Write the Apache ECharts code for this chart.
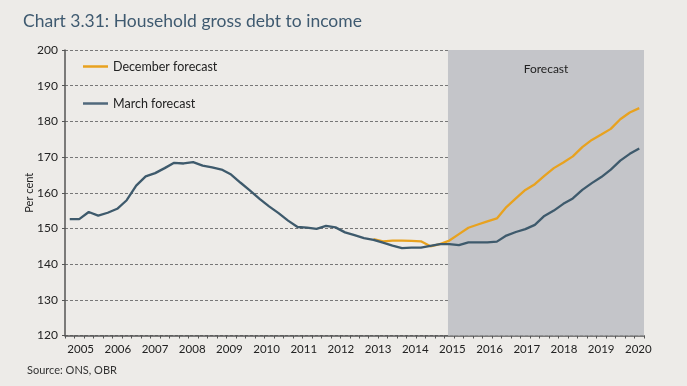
<!DOCTYPE html>
<html>
<head>
<meta charset="utf-8">
<script src="https://cdn.jsdelivr.net/npm/echarts@6/dist/echarts.min.js"></script>
<style>
html,body{margin:0;padding:0;background:#edebe8;}
#c{width:687px;height:386px;}
</style>
</head>
<body>
<div id="c"></div>
<script>
// Quarterly categories 2005 Q1 .. 2020 Q1
var quarters = [];
for (var y = 2005; y <= 2020; y++) {
  for (var q = 1; q <= 4; q++) {
    if (y === 2020 && q > 1) break;
    quarters.push(y + ' Q' + q);
  }
}
var yearLabels = [2005,2006,2007,2008,2009,2010,2011,2012,2013,2014,2015,2016,2017,2018,2019,2020];

var marchForecast = [
  152.6,152.6,154.6,153.6, 154.4,155.5,157.9,162.0, 164.6,165.5,166.9,168.4,
  168.2,168.6,167.6,167.1, 166.5,165.1,162.8,160.6, 158.3,156.2,154.3,152.2,
  150.4,150.2,149.9,150.7, 150.3,148.9,148.1,147.3, 146.8,146.0,145.2,144.5,
  144.6,144.6,145.1,145.6, 145.6,145.3,146.1,146.1, 146.1,146.3,148.0,149.0,
  149.8,151.0,153.5,155.0, 156.9,158.4,160.8,162.7, 164.4,166.5,169.0,170.9,
  172.4
];
var decemberForecast = [
  null,null,null,null, null,null,null,null, null,null,null,null,
  null,null,null,null, null,null,null,null, null,null,null,null,
  null,null,null,null, null,null,null,null, 147.0,146.4,146.6,146.6,
  146.5,146.4,145.0,145.6, 146.6,148.4,150.2,151.1, 152.0,152.8,156.0,158.4,
  160.8,162.4,164.7,166.9, 168.5,170.2,172.8,174.8, 176.3,177.9,180.6,182.5,
  183.7
];
var forecastPeriod = [2014.88, 2020.153];

var chart = echarts.init(document.getElementById('c'));
var font = 'Lato, "Open Sans", sans-serif';
chart.setOption({
  backgroundColor: '#edebe8',
  animation: false,
  textStyle: {fontFamily: font},
  title: [
    {text: 'Chart 3.31: Household gross debt to income', left: 18, top: 7,
     textStyle: {fontSize: 17.5, fontWeight: 'normal', color: '#3f5a70', fontFamily: font}},
    {text: 'Source: ONS, OBR', left: 22, top: 360,
     textStyle: {fontSize: 11, fontWeight: 'normal', color: '#333', fontFamily: font}}
  ],
  legend: {
    orient: 'vertical', left: 78, top: 55, itemWidth: 25, itemHeight: 2.5, itemGap: 24,
    icon: 'rect',
    textStyle: {fontSize: 12.5, color: '#222', fontFamily: font},
    data: ['December forecast', 'March forecast']
  },
  grid: {left: 65, right: 43, top: 50, bottom: 50.5, containLabel: false},
  xAxis: [
    {type: 'category', data: quarters, boundaryGap: true,
     axisLine: {lineStyle: {color: '#555', width: 1.5}},
     axisTick: {show: true, interval: 0, length: 3, lineStyle: {color: '#555'}},
     axisLabel: {show: false},
     splitLine: {show: false}},
    {type: 'value', position: 'bottom', min: 2004.578, max: 2020.153,
     axisLine: {show: false}, axisTick: {show: false}, splitLine: {show: false},
     axisLabel: {show: true, customValues: yearLabels, margin: 8, fontSize: 11.5, color: '#222',
       fontFamily: font, formatter: function (v) { return String(Math.round(v)); }}}
  ],
  yAxis: {
    type: 'value', min: 120, max: 200, interval: 10,
    name: 'Per cent', nameLocation: 'middle', nameGap: 30, nameRotate: 90,
    nameMoveOverlap: false,
    nameTextStyle: {fontSize: 11, color: '#222', fontFamily: font},
    axisLine: {show: true, lineStyle: {color: '#555', width: 1.5}},
    axisTick: {show: true, length: 3, lineStyle: {color: '#555'}},
    axisLabel: {margin: 7, fontSize: 12, color: '#222', fontFamily: font},
    splitLine: {show: true, lineStyle: {color: '#777', type: [3, 2], width: 1}}
  },
  series: [
    {name: 'forecast-area', type: 'line', xAxisIndex: 1, data: [], z: -1, silent: true,
     markArea: {silent: true, itemStyle: {color: '#c4c5c9'},
       label: {show: true, position: 'insideTop', distance: 13, color: '#222', fontSize: 12, fontFamily: font},
       data: [[{name: 'Forecast', xAxis: forecastPeriod[0]}, {xAxis: forecastPeriod[1]}]]}},
    {name: 'December forecast', type: 'line', data: decemberForecast, symbol: 'none',
     lineStyle: {color: '#e8a21f', width: 2.3}, itemStyle: {color: '#e8a21f'}, z: 3},
    {name: 'March forecast', type: 'line', data: marchForecast, symbol: 'none',
     lineStyle: {color: '#3e5a6c', width: 2.3}, itemStyle: {color: '#50697c'}, z: 4}
  ]
});
</script>
</body>
</html>
